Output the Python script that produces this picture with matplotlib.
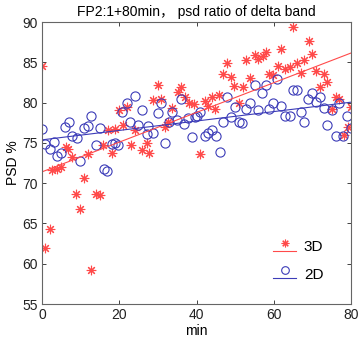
import numpy as np
import matplotlib
matplotlib.use("Agg")
from matplotlib import pyplot as plt
from matplotlib.lines import Line2D
from matplotlib.legend_handler import HandlerBase

plt.rcParams['font.family'] = ['Liberation Sans', 'Noto Sans CJK SC', 'DejaVu Sans']

# PSD ratio of the delta band, FP2 channel, 3D vs 2D viewing
t_3d = [0, 0.8, 2.1, 2.6, 3.9, 4.9, 6.2, 6.7, 7.8, 8.8, 9.8, 10.9, 11.9, 12.7, 14.0,
        15.0, 15.8, 17.1, 18.1, 18.9, 19.8, 21.0, 22.0, 23.1, 24.1, 25.9, 27.2, 27.7,
        28.8, 30.1, 30.8, 31.9, 32.6, 33.7, 35.1, 36.0, 37.0, 38.1, 39.4, 40.9, 42.2,
        43.0, 44.0, 44.8, 45.9, 46.9, 47.9, 49.0, 49.7, 51.0, 52.1, 52.8, 53.9, 55.2,
        56.0, 57.3, 58.0, 58.8, 59.7, 61.1, 61.9, 63.0, 64.2, 65.0, 66.0, 67.1, 67.9,
        69.2, 70.0, 71.0, 72.0, 73.1, 73.8, 75.1, 76.2, 77.0, 78.2, 79.3, 80.0]
psd_3d = [84.5, 62.0, 64.3, 71.6, 71.8, 72.0, 74.5, 74.3, 73.2, 68.7, 66.8, 70.7, 73.6,
          59.2, 68.7, 68.5, 74.8, 76.6, 73.8, 76.7, 79.1, 77.2, 79.4, 74.7, 76.6, 74.1,
          75.0, 73.7, 80.3, 82.2, 80.4, 77.0, 77.6, 79.3, 81.3, 82.0, 80.7, 79.9, 79.8,
          73.6, 80.2, 79.6, 80.7, 79.2, 81.0, 83.6, 84.9, 83.2, 82.1, 79.9, 81.9, 85.3,
          83.0, 85.9, 85.4, 85.8, 86.3, 83.6, 83.4, 84.5, 86.6, 84.2, 84.4, 89.4, 84.9,
          83.7, 85.3, 87.6, 86.0, 83.9, 81.9, 83.5, 82.5, 79.2, 80.7, 80.4, 76.0, 77.0,
          79.4]

t_2d = [0, 0.8, 2.1, 3.1, 3.9, 4.9, 6.0, 7.0, 7.8, 9.1, 9.8, 10.9, 11.9, 12.7, 14.0,
        15.0, 16.1, 16.8, 18.1, 18.9, 19.7, 20.7, 22.0, 22.8, 24.1, 24.9, 25.9, 27.2,
        27.5, 28.8, 30.1, 30.8, 31.9, 32.9, 33.7, 35.0, 36.0, 36.8, 37.8, 38.9, 39.6,
        40.2, 40.8, 42.2, 43.0, 44.0, 45.1, 46.1, 46.9, 47.9, 49.0, 50.0, 51.0, 51.8,
        52.8, 53.9, 55.2, 56.0, 57.0, 58.0, 58.8, 59.8, 60.9, 61.9, 63.0, 64.2, 65.0,
        66.0, 67.1, 67.9, 68.9, 70.0, 71.0, 72.0, 73.1, 73.8, 75.1, 76.2, 77.0, 78.0,
        79.0, 80.0]
psd_2d = [76.7, 74.9, 74.3, 75.1, 73.4, 73.8, 77.0, 77.6, 75.8, 75.6, 72.7, 76.8, 77.1,
          78.4, 74.7, 76.8, 71.8, 71.5, 74.9, 75.0, 74.8, 78.8, 80.0, 77.6, 80.8, 77.2,
          79.1, 76.1, 77.1, 76.2, 78.7, 80.0, 75.0, 77.6, 78.8, 77.8, 80.5, 77.3, 78.1,
          75.7, 78.2, 78.3, 78.8, 75.9, 76.2, 76.6, 75.8, 73.9, 77.6, 80.7, 78.2, 79.5,
          77.6, 77.5, 79.2, 79.9, 82.2, 79.1, 81.2, 82.2, 79.2, 79.9, 82.9, 79.6, 78.3,
          78.4, 81.6, 81.6, 78.8, 77.6, 80.5, 81.2, 80.1, 80.7, 79.3, 77.2, 79.1, 75.9,
          79.9, 75.9, 78.3, 76.9]

red = '#ff4a4a'
blue = '#3c3cb8'


class MarkerAboveLine(HandlerBase):
    # legend entry with the marker sitting above a short line segment
    def create_artists(self, legend, orig_handle, xdescent, ydescent, width, height,
                       fontsize, trans):
        y = height / 2 - ydescent
        seg = Line2D([-xdescent, width - xdescent], [y - 0.45 * height] * 2,
                     color=orig_handle.get_color(), lw=orig_handle.get_linewidth(),
                     transform=trans)
        mk = Line2D([width / 2 - xdescent], [y + 0.3 * height], ls='none',
                    marker=orig_handle.get_marker(),
                    markersize=orig_handle.get_markersize(),
                    markeredgewidth=orig_handle.get_markeredgewidth(),
                    markerfacecolor='none',
                    markeredgecolor=orig_handle.get_markeredgecolor(),
                    transform=trans)
        return [seg, mk]


fig = plt.figure(figsize=(3.6, 3.39), dpi=100)
ax = fig.add_axes([0.117, 0.103, 0.858, 0.832])

ax.plot(t_3d, psd_3d, ls='none', marker=(8, 2, 0), markersize=6.8,
        markeredgewidth=0.8, color=red)
ax.plot(t_2d, psd_2d, ls='none', marker='o', markersize=6.6, markerfacecolor='none',
        markeredgewidth=0.8, color=blue)

xs = np.array([0, 80])
k3, b3 = np.polyfit(t_3d, psd_3d, 1)
k2, b2 = np.polyfit(t_2d, psd_2d, 1)
ax.plot(xs, k3 * xs + b3, color=red, lw=0.8)
ax.plot(xs, k2 * xs + b2, color=blue, lw=0.8)

ax.set_xlim(0, 80)
ax.set_ylim(55, 90)
ax.set_xticks([0, 20, 40, 60, 80])
ax.set_yticks(np.arange(55, 91, 5))
ax.tick_params(direction='in', length=3, width=0.6, top=True, right=True,
               labelsize=10, colors='#222222', pad=3)
for s in ax.spines.values():
    s.set_color('#666666')
    s.set_linewidth(0.8)

ax.set_xlabel('min', fontsize=10, labelpad=1)
ax.set_ylabel('PSD %', fontsize=10, labelpad=2)
ax.set_title('FP2:1+80min， psd ratio of delta band', fontsize=10, pad=4)

h3 = Line2D([], [], color=red, lw=0.8, marker=(8, 2, 0), markersize=5.5,
            markeredgewidth=0.8, markeredgecolor=red)
h2 = Line2D([], [], color=blue, lw=0.8, marker='o', markersize=5.5,
            markeredgewidth=0.8, markeredgecolor=blue)
ax.legend([h3, h2], ['3D', '2D'], loc='lower right', bbox_to_anchor=(0.955, 0.03),
          frameon=False, fontsize=11, handlelength=1.5, handletextpad=0.5,
          labelspacing=0.9,
          handler_map={h3: MarkerAboveLine(), h2: MarkerAboveLine()})

fig.savefig('out.png', dpi=100)
